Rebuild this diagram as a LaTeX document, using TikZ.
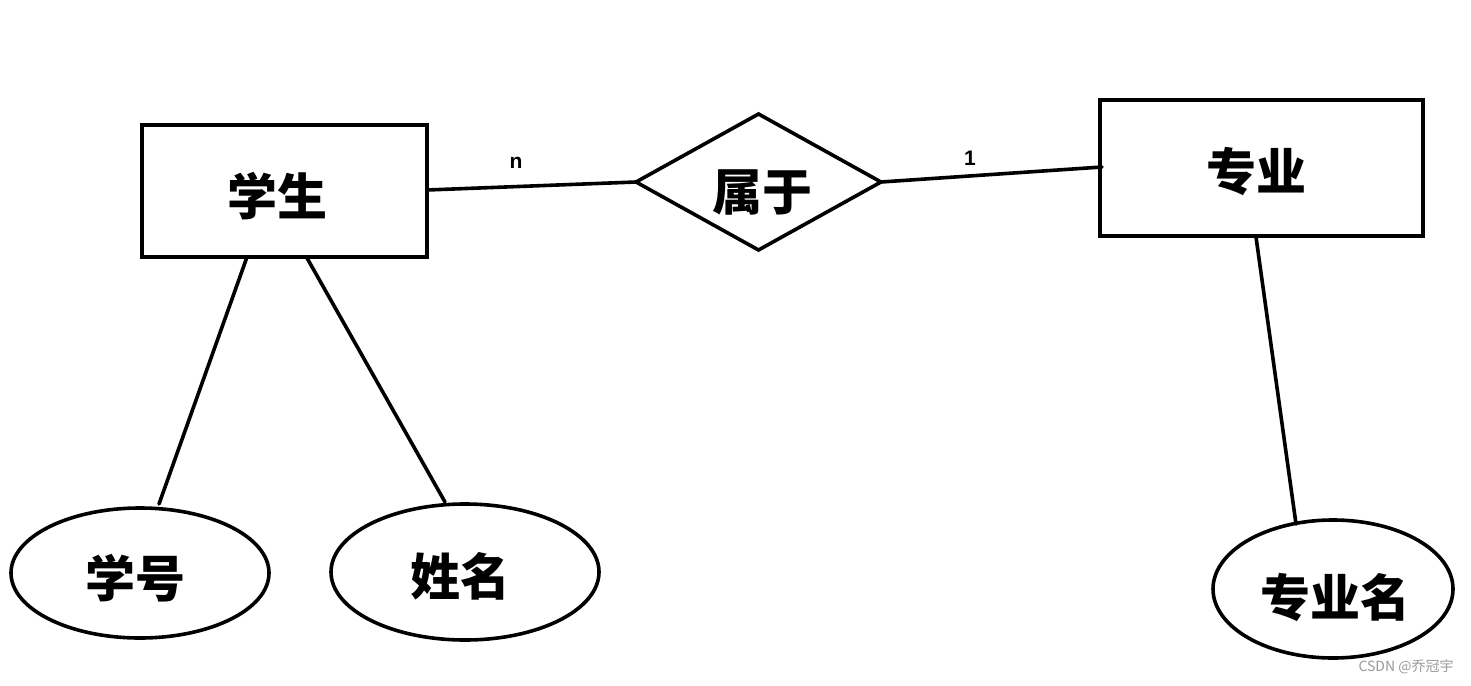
\documentclass[tikz,border=0pt]{standalone}
\usepackage{fontspec}
\usetikzlibrary{shapes.geometric,calc}
\newfontfamily\cjk{Noto Sans CJK SC}
\newfontfamily\lab{Liberation Sans}
\begin{document}
\begin{tikzpicture}[x=1pt,y=-1pt,
  every node/.style={inner sep=0pt,outer sep=0pt},
  ln/.style={line width=3.6pt,line cap=round},
  ent/.style={draw,line width=3.6pt,font=\cjk\bfseries\fontsize{50}{50}\selectfont},
  rel/.style={draw,diamond,line width=3.6pt,font=\cjk\bfseries\fontsize{50}{50}\selectfont},
  attr/.style={draw,ellipse,line width=3.6pt,font=\cjk\bfseries\fontsize{50}{50}\selectfont},
  card/.style={font=\lab\bfseries\fontsize{21}{21}\selectfont}]
\useasboundingbox (0,0) rectangle (1471,685);
\node[ent,minimum width=285pt,minimum height=132pt] (xs) at (284.5,191) {};
\node[font=\cjk\bfseries\fontsize{50}{50}\selectfont] (xst) at (277,196) {学生};
\node[ent,minimum width=323pt,minimum height=136pt] (zy) at (1261.5,168) {};
\node[font=\cjk\bfseries\fontsize{50}{50}\selectfont] (zyt) at (1256,171) {专业};
\node[rel,minimum width=245pt,minimum height=136pt] (sy) at (758.5,182) {};
\node[font=\cjk\bfseries\fontsize{50}{50}\selectfont] (syt) at (762,192) {属于};
\node[attr,minimum width=258pt,minimum height=130pt] (xh) at (140,573) {};
\node[font=\cjk\bfseries\fontsize{50}{50}\selectfont] (xht) at (135,578) {学号};
\node[attr,minimum width=268pt,minimum height=136pt] (xm) at (465,572) {};
\node[font=\cjk\bfseries\fontsize{50}{50}\selectfont] (xmt) at (460,576) {姓名};
\node[attr,minimum width=240pt,minimum height=138pt] (zym) at (1333,589) {};
\node[font=\cjk\bfseries\fontsize{50}{50}\selectfont] (zymt) at (1335,597) {专业名};
\node[card] (n) at (516,163) {n};
\node[card] (one) at (970,158) {1};
\node[font=\cjk\fontsize{14}{14}\selectfont,text=black!40] (wm) at (1406,667) {CSDN @乔冠宇};
\draw[ln] ($(xs.east)+(0,-1)$) -- (sy.west);
\draw[ln] (sy.east) -- ($(zy.west)+(2,-1)$);
\draw[ln] ($(xs.south)+(-37.5,0)$) -- ($(xh.north)+(19,-4)$);
\draw[ln] ($(xs.south)+(22.5,1)$) -- ($(xm.north)+(-20,-2)$);
\draw[ln] ($(zy.south)+(-5.5,1)$) -- ($(zym.north)+(-37,4)$);
\end{tikzpicture}
\end{document}
